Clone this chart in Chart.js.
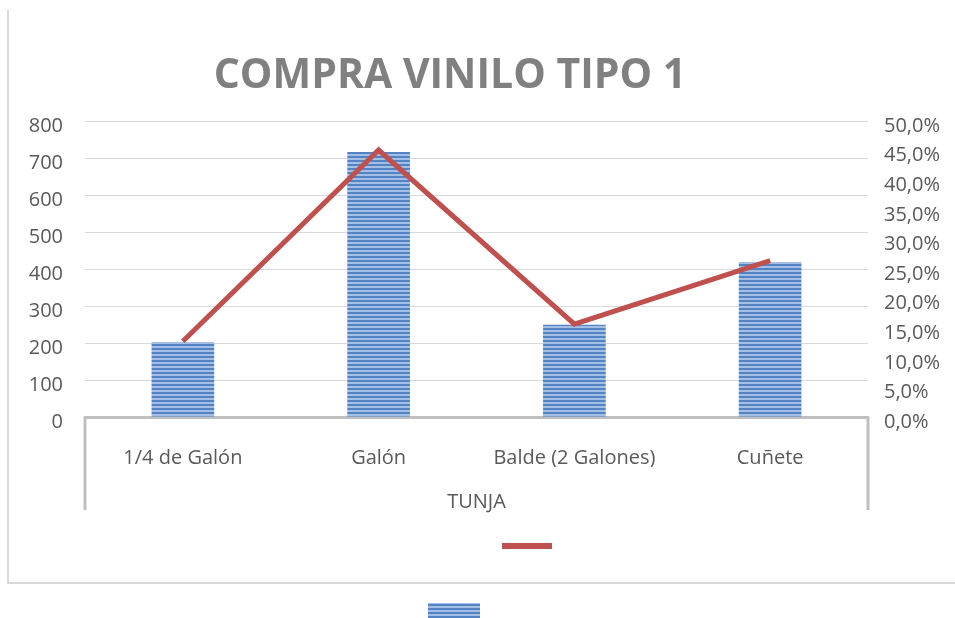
<!DOCTYPE html>
<html>
<head>
<meta charset="utf-8">
<script src="https://cdn.jsdelivr.net/npm/chart.js@4"></script>
<style>
  html, body { margin: 0; padding: 0; background: #fff; }
  #wrap { width: 955px; height: 618px; }
</style>
</head>
<body>
<div id="wrap"><canvas id="grafico" width="955" height="618"></canvas></div>
<script>
// Données
const categories = ["1/4 de Galón", "Galón", "Balde (2 Galones)", "Cuñete"];
const cantidades = [203, 716, 249, 419];
const porcentajes = [12.8, 45.1, 15.7, 26.4];
const titulo = "COMPRA VINILO TIPO 1";
const grupo = "TUNJA";

const FUENTE = "'Open Sans', 'DejaVu Sans', sans-serif";
const GRIS_TEXTO = "#595959";
const TAILLE = 20;

// motif rayé des barres
function motifBarres(ctx) {
  const c = document.createElement("canvas");
  c.width = 4; c.height = 4;
  const p = c.getContext("2d");
  p.fillStyle = "#5383c3";
  p.fillRect(0, 0, 4, 2);
  p.fillStyle = "#a4bfe6";
  p.fillRect(0, 2, 4, 2);
  return ctx.createPattern(c, "repeat");
}

const decor = {
  id: "decor",
  beforeDraw(chart) {
    const ctx = chart.ctx;
    ctx.save();
    ctx.fillStyle = "#fff";
    ctx.fillRect(0, 0, chart.width, chart.height);
    // cadre extérieur
    ctx.strokeStyle = "#d9d9d9";
    ctx.lineWidth = 2;
    ctx.beginPath();
    ctx.moveTo(8, 10);
    ctx.lineTo(8, 583);
    ctx.lineTo(chart.width, 583);
    ctx.stroke();
    ctx.restore();
  },
  afterDraw(chart) {
    const ctx = chart.ctx;
    const a = chart.chartArea;
    ctx.save();
    // titre
    ctx.fillStyle = "#808080";
    ctx.font = "bold 41px " + FUENTE;
    ctx.textAlign = "center";
    ctx.textBaseline = "middle";
    ctx.fillText(titulo, 450, 76);
    // boîte de l'axe des catégories
    ctx.strokeStyle = "#bfbfbf";
    ctx.lineWidth = 3;
    ctx.beginPath();
    ctx.moveTo(a.left, a.bottom);
    ctx.lineTo(a.left, 510);
    ctx.moveTo(a.right, a.bottom);
    ctx.lineTo(a.right, 510);
    ctx.stroke();
    // libellé du groupe
    ctx.fillStyle = GRIS_TEXTO;
    ctx.font = TAILLE + "px " + FUENTE;
    ctx.fillText(grupo, (a.left + a.right) / 2, 502);
    // légende (sans texte)
    ctx.fillStyle = "#c0504d";
    ctx.fillRect(502, 543, 50, 6);
    ctx.fillStyle = motifBarres(ctx);
    ctx.fillRect(428, 603, 52, 16);
    ctx.restore();
  }
};

const ctx = document.getElementById("grafico").getContext("2d");
new Chart(ctx, {
  data: {
    labels: categories,
    datasets: [
      {
        type: "line",
        label: "Porcentaje",
        data: porcentajes,
        yAxisID: "y2",
        borderColor: "#c0504d",
        borderWidth: 5,
        pointRadius: 0,
        tension: 0,
        order: 0
      },
      {
        type: "bar",
        label: "Cantidad",
        data: cantidades,
        yAxisID: "y",
        backgroundColor: motifBarres(ctx),
        barPercentage: 0.32,
        categoryPercentage: 1,
        order: 1
      }
    ]
  },
  options: {
    responsive: false,
    animation: false,
    layout: { padding: { left: 8, right: 0, top: 121, bottom: 151 } },
    plugins: {
      legend: { display: false },
      tooltip: { enabled: false }
    },
    scales: {
      x: {
        grid: { display: false, drawTicks: false },
        border: { color: "#bfbfbf", width: 3 },
        ticks: { color: GRIS_TEXTO, font: { family: FUENTE, size: TAILLE }, padding: 29, maxRotation: 0 },
        afterFit: s => { s.height = 50; }
      },
      y: {
        position: "left",
        min: 0,
        max: 800,
        ticks: { stepSize: 100, color: GRIS_TEXTO, font: { family: FUENTE, size: TAILLE }, padding: 22, labelOffset: 5 },
        grid: { color: "#d9d9d9", lineWidth: 1, drawTicks: false },
        border: { display: false },
        afterFit: s => { s.width = 77; }
      },
      y2: {
        position: "right",
        min: 0,
        max: 50,
        ticks: {
          stepSize: 5,
          color: GRIS_TEXTO,
          font: { family: FUENTE, size: TAILLE },
          padding: 16,
          labelOffset: 5,
          callback: v => v.toFixed(1).replace(".", ",") + "%"
        },
        grid: { display: false, drawTicks: false },
        border: { display: false },
        afterFit: s => { s.width = 87; }
      }
    }
  },
  plugins: [decor]
});
</script>
</body>
</html>
